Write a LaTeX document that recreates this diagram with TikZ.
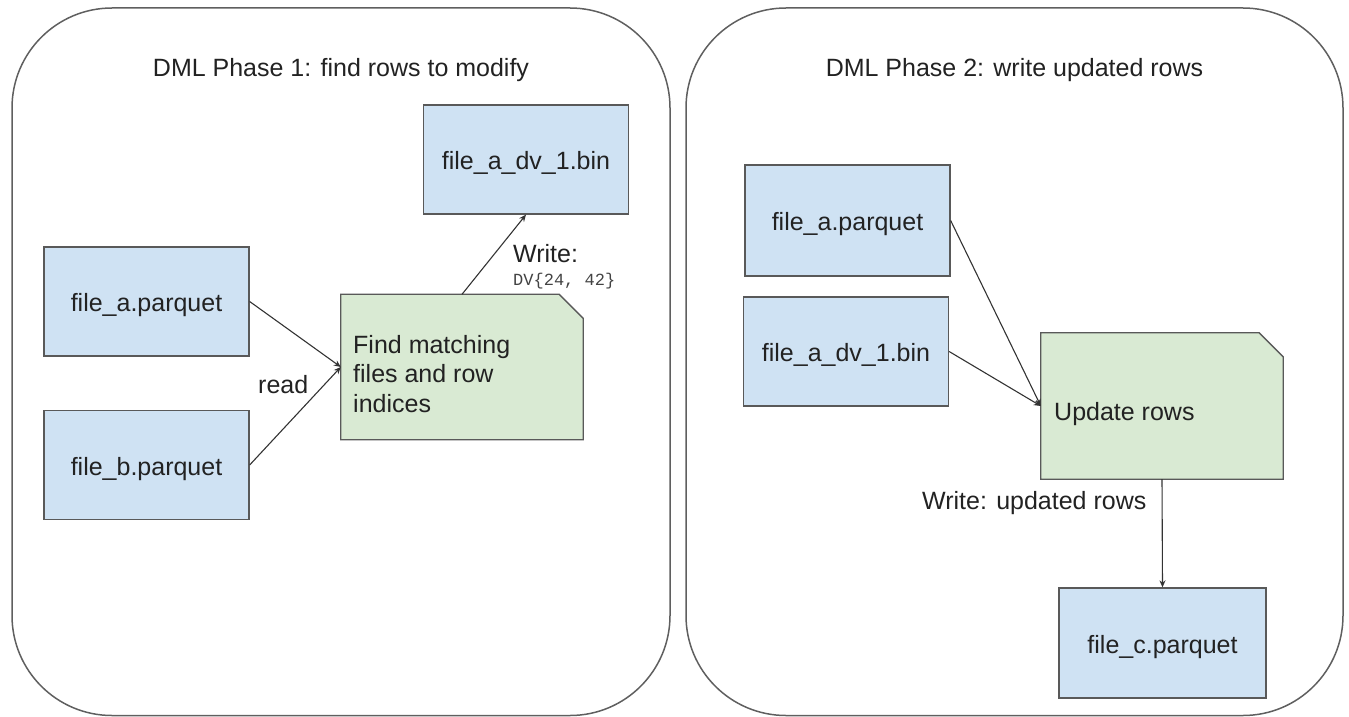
\documentclass[tikz,border=0pt]{standalone}
\usepackage{fontspec}
\setmainfont{Liberation Sans}
\newfontfamily\codefont{Liberation Mono}
\usetikzlibrary{arrows.meta}

\definecolor{fileblue}{HTML}{CFE2F3}
\definecolor{notegreen}{HTML}{D9EAD3}
\definecolor{edgegray}{HTML}{595959}
\definecolor{panelgray}{HTML}{5F5F5F}
\definecolor{inkdark}{HTML}{222222}
\definecolor{wiregray}{HTML}{333333}

\tikzset{
  panel/.style={draw=panelgray, line width=1.5pt, rounded corners=100pt},
  title/.style={font=\fontsize{25}{30}\selectfont, text=inkdark, anchor=base, inner sep=0pt},
  filebox/.style={draw=edgegray, fill=fileblue, line width=1.3pt,
    minimum width=205pt, minimum height=109pt, inner sep=0pt,
    font=\fontsize{25}{30}\selectfont, text=inkdark, text height=20pt, text depth=0pt},
  notearea/.style={minimum width=242pt, minimum height=145pt, inner sep=0pt},
  noteshape/.style={draw=edgegray, fill=notegreen, line width=1.3pt},
  notetext/.style={font=\fontsize{25}{29.5}\selectfont, text=inkdark, anchor=base west,
    inner sep=0pt, align=left},
  lbl/.style={font=\fontsize{25}{30}\selectfont, text=inkdark, anchor=base west, inner sep=0pt},
  codelbl/.style={font=\codefont\fontsize{17}{19}\selectfont, text=inkdark!85, anchor=base west, inner sep=0pt},
  wire/.style={draw=wiregray, line width=1.1pt, -{Stealth[length=7pt,width=6pt]}}
}

\newcommand{\drawnote}[1]{%
  \path[noteshape] (#1.south west) -- (#1.north west) -- ([xshift=-24pt]#1.north east)
    -- ([yshift=-24pt]#1.north east) -- (#1.south east) -- cycle;}

\begin{document}
\begin{tikzpicture}[x=1pt, y=-1pt]
  \useasboundingbox (0,0) rectangle (1349,717);

  % two phase panels
  \draw[panel] (12,8) rectangle (670,715.5);
  \draw[panel] (686,8) rectangle (1343,715.5);

  \node[title] (t1) at (341,77) {DML Phase 1: find rows to modify};
  \node[title] (t2) at (1014.5,77) {DML Phase 2: write updated rows};

  % ---- phase 1 ----
  \node[filebox] (pa) at (146.5,301.5) {file\_a.parquet};
  \node[filebox] (pb) at (146.5,465) {file\_b.parquet};
  \node[filebox] (dva) at (526,159.5) {file\_a\_dv\_1.bin};
  \node[notearea] (find) at (462,367) {};
  \drawnote{find}
  % base of a multi-line node sits on its last line
  \node[notetext] (findtxt) at (353,412)
    {Find matching\\files and row\\indices};

  \draw[wire] (pa.east) -- (find.west);
  \draw[wire] (pb.east) -- (find.west);
  \draw[wire] (find.north) -- (dva.south);

  \node[lbl] (rd) at (258,393) {read};
  \node[lbl] (wr1) at (513,262) {Write:};
  \node[codelbl] (dvv) at (513,285) {DV\{24, 42\}};

  % ---- phase 2 ----
  \node[filebox, minimum height=111pt] (qa) at (847.5,220.5) {file\_a.parquet};
  \node[filebox] (dvb) at (846,351.5) {file\_a\_dv\_1.bin};
  \node[notearea, minimum height=146pt] (upd) at (1162,406) {};
  \drawnote{upd}
  \node[notetext] (updtxt) at (1054,420) {Update rows};
  \node[filebox, minimum width=207pt, minimum height=110pt] (qc) at (1162.5,643) {file\_c.parquet};

  \draw[wire] (qa.east) -- (upd.west);
  \draw[wire] (dvb.east) -- (upd.west);
  \draw[wire] (upd.south) -- (qc.north);

  \node[lbl] (wr2) at (922,509) {Write: updated rows};
\end{tikzpicture}
\end{document}
